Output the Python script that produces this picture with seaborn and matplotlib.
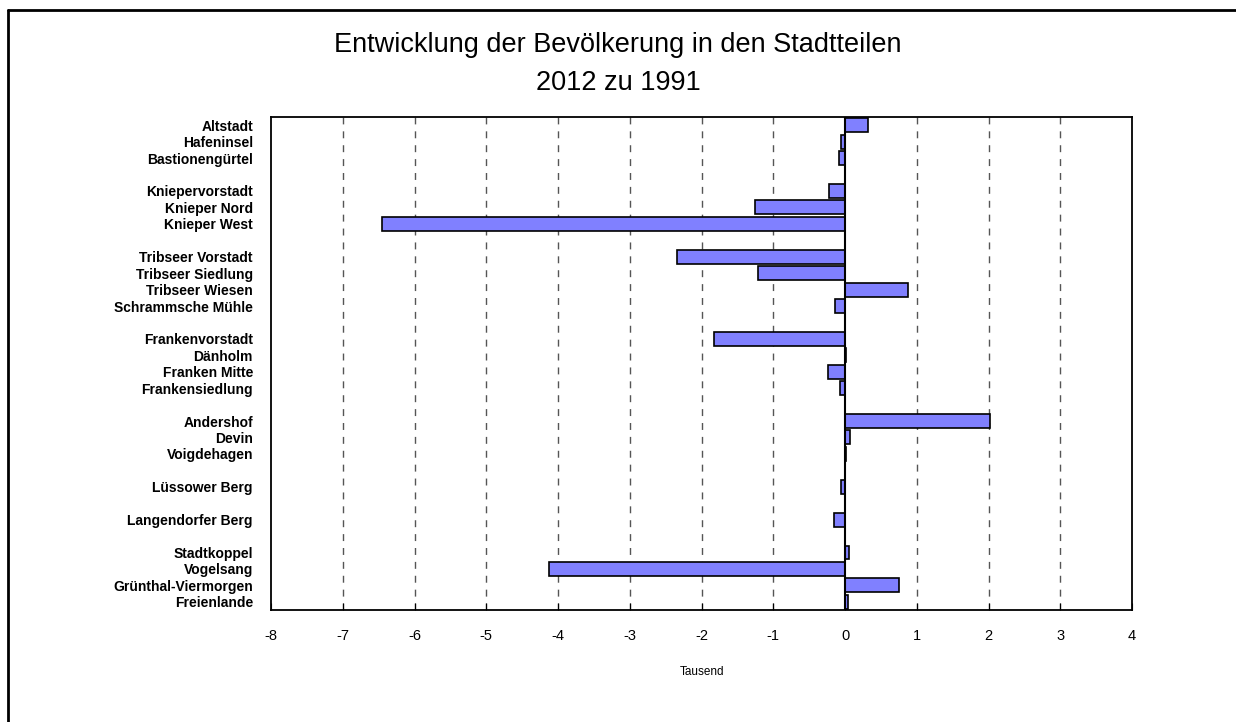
import matplotlib
matplotlib.use("Agg")
import matplotlib.pyplot as plt
import seaborn as sns
import pandas as pd
from matplotlib.lines import Line2D

# Stadtteile (leere Einträge = Abstand zwischen den Gruppen)
stadtteile = [
    "Altstadt", "Hafeninsel", "Bastionengürtel", " ",
    "Kniepervorstadt", "Knieper Nord", "Knieper West", "  ",
    "Tribseer Vorstadt", "Tribseer Siedlung", "Tribseer Wiesen", "Schrammsche Mühle", "   ",
    "Frankenvorstadt", "Dänholm", "Franken Mitte", "Frankensiedlung", "    ",
    "Andershof", "Devin", "Voigdehagen", "     ",
    "Lüssower Berg", "      ",
    "Langendorfer Berg", "       ",
    "Stadtkoppel", "Vogelsang", "Grünthal-Viermorgen", "Freienlande",
]
# Veränderung 2012 zu 1991, in Tausend
veraenderung = [
    0.32, -0.06, -0.08, None,
    -0.23, -1.25, -6.45, None,
    -2.34, -1.22, 0.88, -0.14, None,
    -1.83, 0.01, -0.24, -0.065, None,
    2.02, 0.07, 0.02, None,
    -0.05, None,
    -0.15, None,
    0.06, -4.12, 0.75, 0.045,
]
x_ticks = list(range(-8, 5))

df = pd.DataFrame({"stadtteil": stadtteile, "wert": veraenderung}).dropna()

sns.set_style("white")
plt.rcParams["font.family"] = ["Liberation Sans", "DejaVu Sans"]
plt.rcParams["text.color"] = "black"
plt.rcParams["axes.labelcolor"] = "black"
plt.rcParams["xtick.color"] = "black"
plt.rcParams["ytick.color"] = "black"

fig = plt.figure(figsize=(12.36, 7.22), dpi=100)
ax = fig.add_axes([0.2193, 0.1551, 0.6966, 0.6828])

sns.barplot(data=df, x="wert", y="stadtteil", order=stadtteile, orient="h",
            color="#8080FF", saturation=1, edgecolor="black", linewidth=1.2,
            width=0.85, ax=ax)

ax.set_xlim(-8, 4)
ax.set_ylim(len(stadtteile) - 0.5, -0.5)
ax.set_xticks(x_ticks)
ax.set_xticklabels([str(t) for t in x_ticks], fontsize=10.5)

for t in x_ticks:
    if t not in (-8, 0, 4):
        ax.axvline(t, color="#555555", linestyle=(0, (5, 5)), linewidth=1, zorder=0)
ax.axvline(0, color="black", linewidth=1.5, zorder=3)

ax.tick_params(axis="x", direction="in", length=5, width=0.8, pad=14,
               bottom=True, colors="black")
ax.tick_params(axis="y", length=0, pad=13)
for lbl in ax.get_yticklabels():
    lbl.set_fontweight("bold")
    lbl.set_fontsize(10)
    lbl.set_color("black")

ax.set_xlabel("Tausend", fontsize=8.5, labelpad=16)
ax.set_ylabel("")
for s in ax.spines.values():
    s.set_color("black")
    s.set_linewidth(1.3)
    s.set_visible(True)

fig.text(0.5, 0.938, "Entwicklung der Bevölkerung in den Stadtteilen",
         ha="center", va="center", fontsize=19.5)
fig.text(0.5, 0.885, "2012 zu 1991", ha="center", va="center", fontsize=19.5)

# Rahmen oben und links
fig.add_artist(Line2D([8 / 1236, 8 / 1236], [0, 1 - 10 / 722], color="black",
                      linewidth=2, transform=fig.transFigure))
fig.add_artist(Line2D([8 / 1236, 1], [1 - 10 / 722, 1 - 10 / 722], color="black",
                      linewidth=2, transform=fig.transFigure))

fig.savefig("out.png", dpi=100, facecolor="white")
